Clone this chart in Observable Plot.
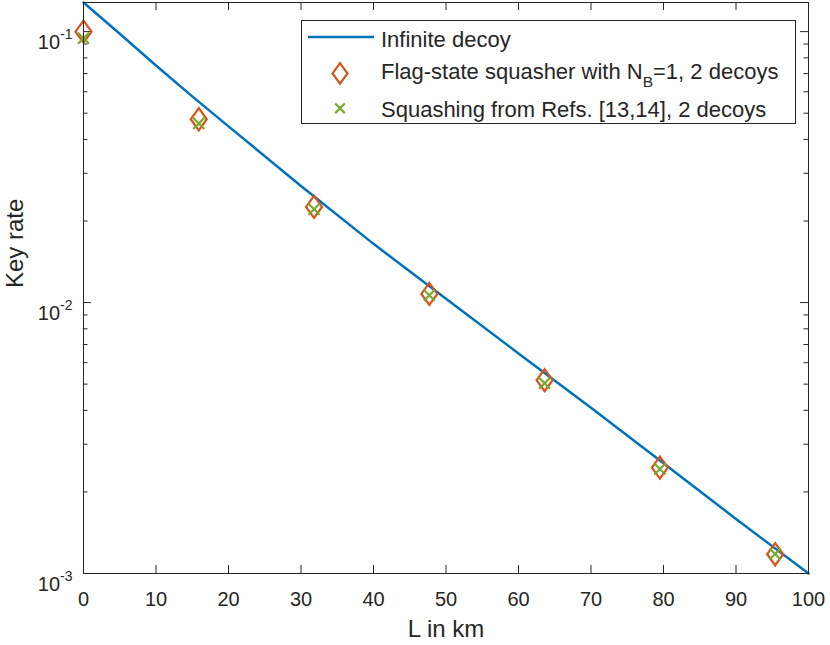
<!DOCTYPE html>
<html>
<head>
<meta charset="utf-8">
<script src="https://cdn.jsdelivr.net/npm/d3@7"></script>
<script src="https://cdn.jsdelivr.net/npm/@observablehq/plot@0.6"></script>
<style>
  html, body { margin: 0; padding: 0; background: #fff; }
  #chart { position: relative; width: 830px; height: 645px; }
  svg { display: block; }
</style>
</head>
<body>
<div id="chart"></div>
<script>
// ---- data ----
const lineDistances = [0, 5, 10, 15, 20, 30, 40, 50, 60, 70, 80, 90, 100];
const infiniteRate  = [0.1281, 0.0982, 0.0750, 0.0577, 0.0447, 0.02695, 0.01647, 0.01032, 0.00649, 0.00409, 0.00255, 0.00159, 0.001];

const distances  = [0, 15.9, 31.8, 47.7, 63.6, 79.5, 95.4];
const flagRate   = [0.100, 0.0475, 0.02254, 0.01076, 0.00517, 0.00246, 0.001178];
const squashRate = [0.0945, 0.0458, 0.0221, 0.01064, 0.00504, 0.00243, 0.00118];

const xTicks = [0, 10, 20, 30, 40, 50, 60, 70, 80, 90, 100];
const yMajorTicks = [0.001, 0.01, 0.1];
const yMinorTicks = [0.002, 0.003, 0.004, 0.005, 0.006, 0.007, 0.008, 0.009,
                     0.02, 0.03, 0.04, 0.05, 0.06, 0.07, 0.08, 0.09];

const legendLabels = ["Infinite decoy", "Flag-state squasher with N_B=1, 2 decoys", "Squashing from Refs. [13,14], 2 decoys"];
const colors = ["#0072BD", "#D95319", "#77AC30"];

const xLabel = "L in km";
const yLabel = "Key rate";

// ---- tables ----
const lineRows = lineDistances.map((d, i) => ({x: d, y: infiniteRate[i]}));
const flagRows = distances.map((d, i) => ({x: d, y: flagRate[i]}));
const squashRows = distances.map((d, i) => ({x: d, y: squashRate[i]}));

// ---- symbols ----
const tallDiamond = {
  draw(ctx, size) {
    const r = Math.sqrt(size / Math.PI);
    const hw = r, hh = r * 1.38;
    ctx.moveTo(0, -hh); ctx.lineTo(hw, 0); ctx.lineTo(0, hh); ctx.lineTo(-hw, 0); ctx.closePath();
  }
};
const cross = {
  draw(ctx, size) {
    const r = Math.sqrt(size / Math.PI);
    ctx.moveTo(-r, -r); ctx.lineTo(r, r); ctx.moveTo(r, -r); ctx.lineTo(-r, r);
  }
};

const W = 830, H = 645, mL = 83, mR = 22, mT = 2, mB = 72;
const pW = W - mL - mR, pH = H - mT - mB;
const axisColor = "#262626";
const font = "'Liberation Sans', Arial, Helvetica, sans-serif";

const chart = Plot.plot({
  width: W, height: H,
  marginLeft: mL, marginRight: mR, marginTop: mT, marginBottom: mB,
  style: {fontFamily: font, color: axisColor, background: "white", overflow: "visible"},
  x: {domain: [0, 100]},
  y: {type: "log", domain: [0.001, 0.1281]},
  marks: [
    Plot.axisX({ticks: xTicks, tickSize: 0, tickPadding: 18, fontSize: 20, label: null, tickFormat: d => String(d)}),
    Plot.axisY({ticks: yMajorTicks, tickSize: 0, tickPadding: 11, fontSize: 20, label: null,
                tickFormat: d => String(Math.round(Math.log10(d)))}),
    // inward tick marks (bottom, top)
    Plot.ruleX(xTicks, {x: d => d, insetTop: pH - 8, stroke: axisColor, strokeWidth: 1}),
    Plot.ruleX(xTicks, {x: d => d, insetBottom: pH - 8, stroke: axisColor, strokeWidth: 1}),
    // inward tick marks (left, right)
    Plot.ruleY(yMajorTicks, {y: d => d, insetRight: pW - 8, stroke: axisColor, strokeWidth: 1}),
    Plot.ruleY(yMajorTicks, {y: d => d, insetLeft: pW - 8, stroke: axisColor, strokeWidth: 1}),
    Plot.ruleY(yMinorTicks, {y: d => d, insetRight: pW - 4.5, stroke: axisColor, strokeWidth: 1}),
    Plot.ruleY(yMinorTicks, {y: d => d, insetLeft: pW - 4.5, stroke: axisColor, strokeWidth: 1}),
    Plot.line(lineRows, {x: "x", y: "y", stroke: colors[0], strokeWidth: 2.5}),
    Plot.dot(flagRows, {x: "x", y: "y", symbol: tallDiamond, r: 8, stroke: colors[1], strokeWidth: 2.2, fill: "none"}),
    Plot.dot(squashRows, {x: "x", y: "y", symbol: cross, r: 5.5, stroke: colors[2], strokeWidth: 2.3, fill: "none"}),
    Plot.frame({stroke: axisColor, strokeWidth: 1}),
    Plot.text([xLabel], {frameAnchor: "bottom", dy: 63, fontSize: 24, fill: axisColor}),
    Plot.text([yLabel], {frameAnchor: "left", dx: -68, rotate: -90, fontSize: 24, fill: axisColor})
  ]
});

document.getElementById("chart").appendChild(chart);

const svg = d3.select(chart);

// superscript exponents on y tick labels
svg.selectAll('g[aria-label="y-axis tick label"] text').each(function() {
  const t = d3.select(this);
  const exp = t.text();
  t.text(null).attr("dy", "0.57em");
  t.append("tspan").text("10");
  t.append("tspan").attr("dy", -10).attr("font-size", 14).text(exp);
});

// ---- legend ----
const lg = svg.append("g").attr("font-family", font).attr("font-size", 22)
  .attr("fill", axisColor).attr("text-anchor", "start");
lg.append("rect").attr("x", 301.5).attr("y", 20.5).attr("width", 494).attr("height", 103)
  .attr("fill", "white").attr("stroke", axisColor).attr("stroke-width", 1);
const baselines = [46.6, 79.3, 116.5];
const rowMid = [37, 73.4, 108.3];
// entry 0: line sample
lg.append("line").attr("x1", 308).attr("x2", 374).attr("y1", rowMid[0]).attr("y2", rowMid[0])
  .attr("stroke", colors[0]).attr("stroke-width", 2.5);
// entry 1: diamond
lg.append("path").attr("transform", `translate(340,${rowMid[1]})`)
  .attr("d", d3.symbol(tallDiamond, 7.5 * 7.5 * Math.PI)()).attr("fill", "none")
  .attr("stroke", colors[1]).attr("stroke-width", 2.2);
// entry 2: cross
lg.append("path").attr("transform", `translate(340,${rowMid[2]})`)
  .attr("d", d3.symbol(cross, 4.8 * 4.8 * Math.PI)()).attr("fill", "none")
  .attr("stroke", colors[2]).attr("stroke-width", 2.3);

legendLabels.forEach((lab, i) => {
  const t = lg.append("text").attr("x", 381).attr("y", baselines[i]).attr("text-anchor", "start");
  const m = lab.match(/^(.*)_(\w)(.*)$/);
  if (m) {
    t.append("tspan").text(m[1]);
    t.append("tspan").attr("dy", 8).attr("font-size", 15.5).text(m[2]);
    t.append("tspan").attr("dy", -8).text(m[3]);
  } else {
    t.text(lab);
  }
});
</script>
</body>
</html>
